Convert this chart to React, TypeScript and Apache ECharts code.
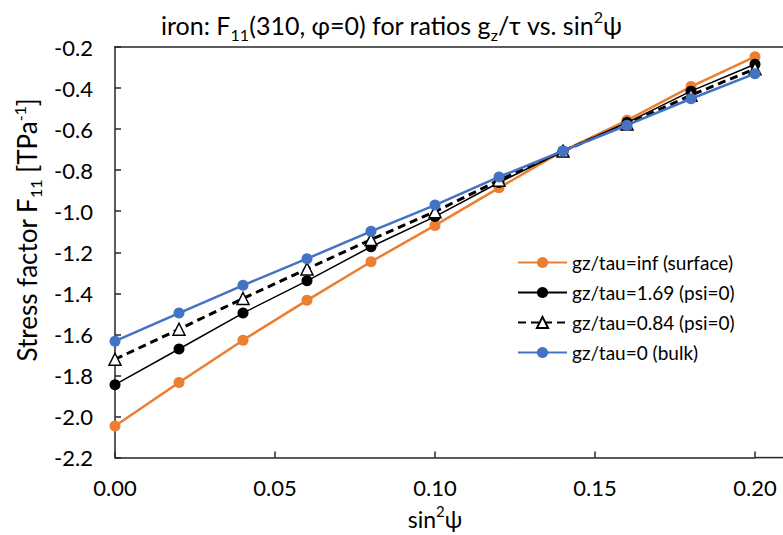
import React, { useEffect, useRef } from "react";
import * as echarts from "echarts";

const xValues = [0, 0.02, 0.04, 0.06, 0.08, 0.1, 0.12, 0.14, 0.16, 0.18, 0.2];
const surface = [-2.046, -1.834, -1.628, -1.434, -1.246, -1.069, -0.886, -0.706, -0.557, -0.393, -0.247];
const g169 = [-1.845, -1.671, -1.496, -1.339, -1.173, -1.026, -0.86, -0.708, -0.568, -0.415, -0.284];
const g084 = [-1.721, -1.575, -1.425, -1.281, -1.138, -1.002, -0.849, -0.707, -0.575, -0.435, -0.306];
const bulk = [-1.633, -1.496, -1.361, -1.231, -1.098, -0.97, -0.833, -0.706, -0.581, -0.452, -0.33];
const seriesNames = [
  "gz/tau=inf (surface)",
  "gz/tau=1.69 (psi=0)",
  "gz/tau=0.84 (psi=0)",
  "gz/tau=0 (bulk)",
];

const FONT = "Lato, 'Open Sans', sans-serif";
const AXIS_COLOR = "#262626";

function pairs(ys: number[]) {
  return xValues.map((x, i) => [x, ys[i]]);
}

export default function App() {
  const ref = useRef<HTMLDivElement>(null);
  useEffect(() => {
    if (!ref.current) return;
    const chart = echarts.init(ref.current, undefined, { renderer: "svg" });
    const option: any = {
      animation: false,
      backgroundColor: "#ffffff",
      textStyle: { fontFamily: FONT },
      title: {
        left: "center",
        top: 3,
        text: "{a|iron: F}{sub|11}{a|(310, φ=0) for ratios g}{sub|z}{a|/τ vs. sin}{sup|2}{a|ψ}",
        textStyle: {
          fontWeight: "normal",
          rich: {
            a: { fontFamily: FONT, fontSize: 25, fontWeight: "normal", color: "#000", lineHeight: 34, verticalAlign: "middle" },
            sub: { fontFamily: FONT, fontSize: 16, fontWeight: "normal", color: "#000", lineHeight: 34, verticalAlign: "bottom", padding: [13, 0, 0, 0] },
            sup: { fontFamily: FONT, fontSize: 16, fontWeight: "normal", color: "#000", lineHeight: 34, verticalAlign: "top", padding: [0, 0, 11, 0] },
          },
        },
      },
      grid: { left: 115, right: 28, top: 47, bottom: 73, containLabel: false },
      legend: {
        orient: "vertical",
        left: 512,
        top: 248,
        itemWidth: 49,
        itemHeight: 14,
        itemGap: 11,
        data: seriesNames,
        textStyle: { fontFamily: FONT, fontSize: 19, lineHeight: 19, color: "#000" },
      },
      xAxis: {
        type: "value",
        min: 0,
        max: 0.2,
        interval: 0.05,
        name: "{a|sin}{sup|2}{a|ψ}",
        nameLocation: "middle",
        nameGap: 42,
        nameTextStyle: {
          rich: {
            a: { fontFamily: FONT, fontSize: 23, color: "#000", lineHeight: 30 },
            sup: { fontFamily: FONT, fontSize: 15, color: "#000", lineHeight: 30, verticalAlign: "top", padding: [0, 0, 10, 0] },
          },
        },
        axisLine: { show: true, onZero: false, lineStyle: { color: AXIS_COLOR, width: 1.5 } },
        axisTick: { show: true, inside: true, length: 6, lineStyle: { color: AXIS_COLOR, width: 1.5 } },
        splitLine: { show: false },
        axisLabel: {
          fontFamily: FONT,
          fontSize: 22,
          color: "#000",
          margin: 19,
          formatter: (v: number) => v.toFixed(2),
        },
      },
      yAxis: {
        type: "value",
        min: -2.2,
        max: -0.2,
        interval: 0.2,
        axisLine: { show: true, onZero: false, lineStyle: { color: AXIS_COLOR, width: 1.5 } },
        axisTick: { show: true, inside: true, length: 6, lineStyle: { color: AXIS_COLOR, width: 1.5 } },
        splitLine: { show: false },
        axisLabel: {
          fontFamily: FONT,
          fontSize: 22,
          color: "#000",
          margin: 22,
          formatter: (v: number) => v.toFixed(1),
        },
      },
      graphic: [
        {
          type: "text",
          x: 27,
          y: 230,
          rotation: Math.PI / 2,
          style: {
            text: "{a|Stress factor F}{sub|11}{a| [TPa}{sup|-1}{a|]}",
            align: "center",
            verticalAlign: "middle",
            rich: {
              a: { fontFamily: FONT, fontSize: 26, fill: "#000", lineHeight: 32 },
              sub: { fontFamily: FONT, fontSize: 16, fill: "#000", lineHeight: 32, verticalAlign: "bottom", padding: [12, 0, 0, 0] },
              sup: { fontFamily: FONT, fontSize: 16, fill: "#000", lineHeight: 32, verticalAlign: "top", padding: [0, 0, 12, 0] },
            },
          },
        },
      ],
      series: [
        {
          name: seriesNames[0],
          type: "line",
          data: pairs(surface),
          symbol: "circle",
          symbolSize: 11,
          color: "#ED7D31",
          lineStyle: { width: 2.5, color: "#ED7D31" },
          itemStyle: { color: "#ED7D31" },
          z: 2,
        },
        {
          name: seriesNames[1],
          type: "line",
          data: pairs(g169),
          symbol: "circle",
          symbolSize: 11,
          color: "#000",
          lineStyle: { width: 1.5, color: "#000" },
          itemStyle: { color: "#000" },
          z: 3,
        },
        {
          name: seriesNames[2],
          type: "line",
          data: pairs(g084),
          symbol: "triangle",
          symbolSize: 12,
          color: "#000",
          lineStyle: { width: 3, color: "#000", type: [8, 5] },
          itemStyle: { color: "#fff", borderColor: "#000", borderWidth: 1.5 },
          z: 4,
        },
        {
          name: seriesNames[3],
          type: "line",
          data: pairs(bulk),
          symbol: "circle",
          symbolSize: 11,
          color: "#4472C4",
          lineStyle: { width: 2.5, color: "#4472C4" },
          itemStyle: { color: "#4472C4" },
          z: 5,
        },
      ],
    };
    chart.setOption(option);
    // extend top border and x-axis line to the right edge, aligned with the axes' own pixels
    const topLeft = chart.convertToPixel({ gridIndex: 0 }, [0, -0.2]) as number[];
    const botRight = chart.convertToPixel({ gridIndex: 0 }, [0.2, -2.2]) as number[];
    chart.setOption({
      graphic: [
        {
          type: "text",
          x: 27,
          y: 230,
          rotation: Math.PI / 2,
          style: {
            text: "{a|Stress factor F}{sub|11}{a| [TPa}{sup|-1}{a|]}",
            align: "center",
            verticalAlign: "middle",
            rich: {
              a: { fontFamily: FONT, fontSize: 26, fill: "#000", lineHeight: 32 },
              sub: { fontFamily: FONT, fontSize: 16, fill: "#000", lineHeight: 32, verticalAlign: "bottom", padding: [12, 0, 0, 0] },
              sup: { fontFamily: FONT, fontSize: 16, fill: "#000", lineHeight: 32, verticalAlign: "top", padding: [0, 0, 12, 0] },
            },
          },
        },
        {
          type: "line",
          shape: { x1: topLeft[0] - 0.75, y1: topLeft[1], x2: 783, y2: topLeft[1] },
          style: { stroke: AXIS_COLOR, lineWidth: 1.5 },
          z: 10,
        },
        {
          type: "line",
          shape: { x1: botRight[0], y1: botRight[1], x2: 783, y2: botRight[1] },
          style: { stroke: AXIS_COLOR, lineWidth: 1.5 },
          z: 10,
        },
      ],
    }, { replaceMerge: ["graphic"] });
    return () => chart.dispose();
  }, []);
  return <div ref={ref} style={{ width: 783, height: 535, position: "absolute", left: 0, top: 0 }} />;
}
